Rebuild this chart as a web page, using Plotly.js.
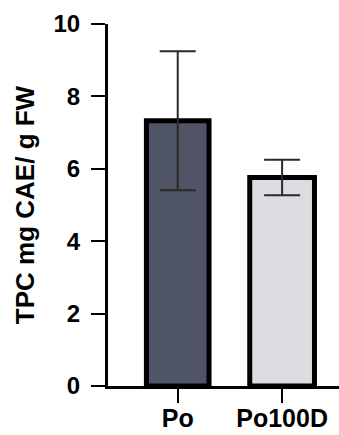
<!DOCTYPE html>
<html>
<head>
<meta charset="utf-8">
<script src="https://cdn.plot.ly/plotly-3.0.1.min.js"></script>
<style>html,body{margin:0;padding:0;background:#fff;}#chart{width:339px;height:435px;}</style>
</head>
<body>
<div id="chart"></div>
<script>
const categories = ['Po', 'Po100D'];
const means = [7.33, 5.76];
const errors = [1.92, 0.49];
const barColors = ['#4f5566', '#dcdde1'];
const yTicks = [0, 2, 4, 6, 8, 10];
const yTitle = 'TPC mg CAE/ g FW';

const trace = {
  type: 'bar',
  x: categories,
  y: means,
  width: [0.6, 0.62],
  marker: { color: barColors, line: { color: '#000', width: 5 } },
  error_y: { type: 'data', array: errors, visible: true, color: '#2a2a2a', thickness: 2, width: 18 },
  hoverinfo: 'none'
};

const font = { family: 'Liberation Sans, Arial, sans-serif', color: '#000' };

const layout = {
  width: 339, height: 435,
  margin: { l: 108, r: 0, t: 24, b: 49, pad: 0 },
  paper_bgcolor: '#fff', plot_bgcolor: '#fff',
  showlegend: false,
  bargap: 0,
  xaxis: {
    type: 'category',
    range: [-0.668, 1.545],
    showline: true, linecolor: '#000', linewidth: 3,
    ticks: 'outside', ticklen: 14, tickwidth: 2, tickcolor: '#000',
    tickfont: Object.assign({ size: 25, weight: 'bold' }, font),
    ticklabelstandoff: -6,
    showgrid: false, zeroline: false, fixedrange: true
  },
  yaxis: {
    range: [0, 10],
    tickvals: yTicks,
    ticktext: yTicks.map(String),
    showline: true, linecolor: '#000', linewidth: 3,
    ticks: 'outside', ticklen: 14, tickwidth: 2, tickcolor: '#000',
    tickfont: Object.assign({ size: 24, weight: 'bold' }, font),
    ticklabelstandoff: 6,
    showgrid: false, zeroline: false, fixedrange: true,
    title: { text: '<b>' + yTitle + '</b>', font: Object.assign({ size: 26 }, font), standoff: 12 }
  }
};

Plotly.newPlot('chart', [trace], layout, { displayModeBar: false, staticPlot: true });
</script>
</body>
</html>
